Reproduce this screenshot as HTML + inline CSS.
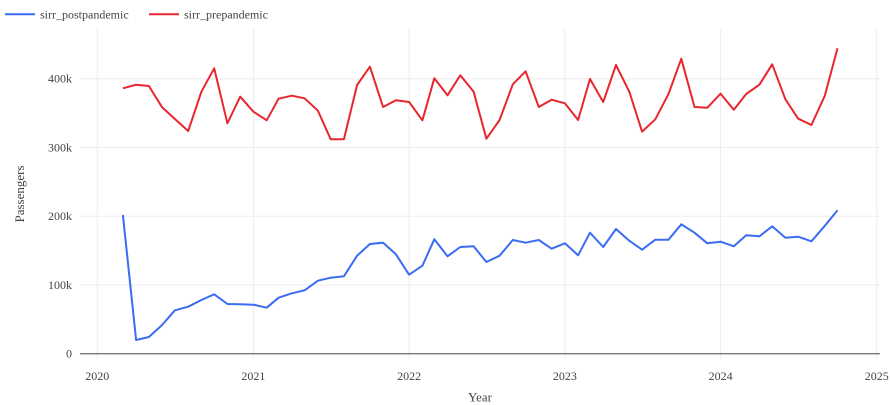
<!DOCTYPE html>
<html>
<head>
<meta charset="utf-8">
<style>
html,body{margin:0;padding:0;background:#fff;}
svg{display:block;}
text{font-family:"Liberation Serif",serif;fill:#444;}
</style>
</head>
<body>
<svg width="890" height="405" viewBox="0 0 890 405" xmlns="http://www.w3.org/2000/svg">
<rect width="890" height="405" fill="#fff"/>
<!-- vertical grid -->
<g stroke="#ebebeb" stroke-width="1">
<line x1="97.3" y1="29" x2="97.3" y2="359"/>
<line x1="253.4" y1="29" x2="253.4" y2="359"/>
<line x1="409.1" y1="29" x2="409.1" y2="359"/>
<line x1="564.9" y1="29" x2="564.9" y2="359"/>
<line x1="720.6" y1="29" x2="720.6" y2="359"/>
<line x1="876.7" y1="29" x2="876.7" y2="359"/>
</g>
<!-- horizontal grid -->
<g stroke="#eeeeee" stroke-width="1">
<line x1="80" y1="78.7" x2="880" y2="78.7"/>
<line x1="80" y1="147.5" x2="880" y2="147.5"/>
<line x1="80" y1="216.2" x2="880" y2="216.2"/>
<line x1="80" y1="284.9" x2="880" y2="284.9"/>
</g>
<line x1="80" y1="353.7" x2="880" y2="353.7" stroke="#777" stroke-width="1.3"/>
<!-- y tick labels -->
<g font-size="12" text-anchor="end">
<text x="72" y="82.7">400k</text>
<text x="72" y="151.5">300k</text>
<text x="72" y="220.2">200k</text>
<text x="72" y="288.9">100k</text>
<text x="72" y="357.7">0</text>
</g>
<!-- x tick labels -->
<g font-size="12" text-anchor="middle">
<text x="97.3" y="380">2020</text>
<text x="253.4" y="380">2021</text>
<text x="409.1" y="380">2022</text>
<text x="564.9" y="380">2023</text>
<text x="720.6" y="380">2024</text>
<text x="876.7" y="380">2025</text>
</g>
<text x="480" y="401.5" font-size="13" text-anchor="middle">Year</text>
<text transform="translate(24,194) rotate(-90)" font-size="13" text-anchor="middle">Passengers</text>
<!-- series -->
<polyline fill="none" stroke="#3a6cf4" stroke-width="2" stroke-linejoin="round" points="122.9,215 136.1,340 148.9,337 162.1,325 174.9,310.3 188.2,306.7 201.4,300 214.2,294.3 227.4,304 240.2,304.3 253.4,304.7 266.7,307.7 278.6,297.7 291.8,293.3 304.6,290.3 317.9,280.7 330.7,277.7 343.9,276.3 357.1,255.7 369.9,244 383.1,242.7 395.9,254.3 409.1,274.7 422.4,265.7 434.3,239.3 447.5,256.3 460.3,247 473.6,246.3 486.4,262 499.6,255.7 512.8,240 525.6,242.7 538.8,240 551.6,248.7 564.9,243.3 578.1,255.3 590.0,232.7 603.2,247 616.0,229 629.3,240.7 642.1,249.7 655.3,239.7 668.5,239.7 681.3,224.3 694.5,232.7 707.3,243.3 720.6,241.7 733.8,246.3 746.2,235.3 759.4,236.3 772.2,226.3 785.4,237.7 798.2,236.7 811.4,241.3 824.7,226 837.5,210.3"/>
<polyline fill="none" stroke="#e8262e" stroke-width="2" stroke-linejoin="round" points="122.9,88.3 136.1,84.7 148.9,86 162.1,107.3 174.9,119 188.2,131 201.4,91.7 214.2,68.3 227.4,123.3 240.2,96.7 253.4,111.7 266.7,120.3 278.6,98.7 291.8,95.7 304.6,98.3 317.9,110.7 330.7,139.3 343.9,139.3 357.1,85 369.9,66.7 383.1,107 395.9,100.3 409.1,102 422.4,120.3 434.3,78.3 447.5,95.3 460.3,75.3 473.6,91.7 486.4,138.7 499.6,120 512.8,84.3 525.6,71.3 538.8,107 551.6,99.7 564.9,103.3 578.1,120 590.0,79 603.2,102 616.0,65 629.3,91.7 642.1,131.7 655.3,119.3 668.5,94 681.3,58.7 694.5,107 707.3,107.7 720.6,93.7 733.8,109.7 746.2,94 759.4,84.7 772.2,64.3 785.4,99.3 798.2,118.7 811.4,125 824.7,96 837.5,48.3"/>
<!-- legend -->
<line x1="5" y1="14.3" x2="35" y2="14.3" stroke="#3a6cf4" stroke-width="2"/>
<text x="40" y="18.5" font-size="12">sirr_postpandemic</text>
<line x1="149" y1="14.3" x2="179" y2="14.3" stroke="#e8262e" stroke-width="2"/>
<text x="184" y="18.5" font-size="12">sirr_prepandemic</text>
</svg>
</body>
</html>
